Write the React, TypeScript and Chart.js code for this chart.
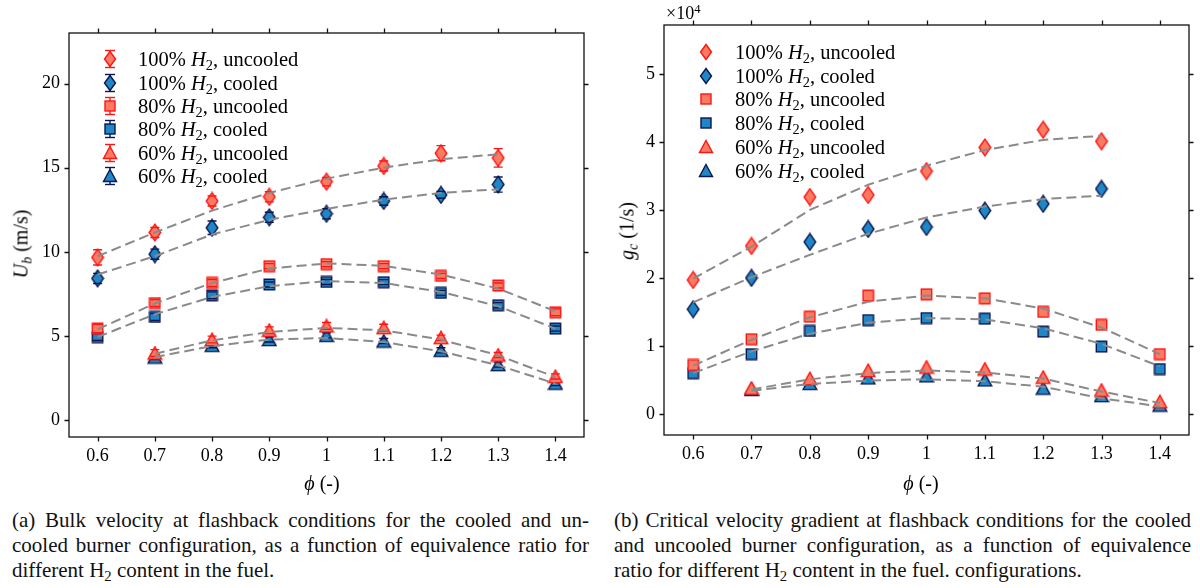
import React, { useEffect, useRef } from "react";
import { Chart, registerables } from "chart.js";

Chart.register(...registerables);

// ---------- data ----------
const PHI_100 = [0.6, 0.7, 0.8, 0.9, 1.0, 1.1, 1.2, 1.3];
const PHI_80 = [0.6, 0.7, 0.8, 0.9, 1.0, 1.1, 1.2, 1.3, 1.4];
const PHI_60 = [0.7, 0.8, 0.9, 1.0, 1.1, 1.2, 1.3, 1.4];

const X_TICKS = [0.6, 0.7, 0.8, 0.9, 1.0, 1.1, 1.2, 1.3, 1.4];
const X_TICK_LABELS = ["0.6", "0.7", "0.8", "0.9", "1", "1.1", "1.2", "1.3", "1.4"];
const UB_TICKS = [0, 5, 10, 15, 20];
const UB_TICK_LABELS = ["0", "5", "10", "15", "20"];
const GC_TICKS = [0, 1, 2, 3, 4, 5];
const GC_TICK_LABELS = ["0", "1", "2", "3", "4", "5"];

// (a) bulk velocity U_b (m/s)
const UB_100_UNC = [9.67, 11.15, 13.02, 13.27, 14.17, 15.1, 15.86, 15.58];
const UB_100_COOL = [8.42, 9.86, 11.43, 12.05, 12.26, 13.02, 13.38, 14.0];
const UB_80_UNC = [5.44, 6.96, 8.15, 9.15, 9.27, 9.15, 8.57, 8.0, 6.41];
const UB_80_COOL = [4.94, 6.13, 7.42, 8.06, 8.21, 8.2, 7.56, 6.83, 5.44];
const UB_60_UNC = [3.99, 4.79, 5.34, 5.6, 5.5, 4.9, 3.87, 2.6];
const UB_60_COOL = [3.75, 4.45, 4.79, 5.04, 4.7, 4.15, 3.3, 2.2];

const UB_100_UNC_ERR = [0.45, 0.3, 0.3, 0.3, 0.25, 0.3, 0.45, 0.55];
const UB_100_COOL_ERR = [0.3, 0.3, 0.4, 0.3, 0.3, 0.25, 0.2, 0.45];
const UB_80_UNC_ERR = [0.25, 0.2, 0.2, 0.15, 0.15, 0.15, 0.15, 0.15, 0.2];
const UB_80_COOL_ERR = [0.2, 0.2, 0.2, 0.15, 0.15, 0.15, 0.15, 0.15, 0.15];
const UB_60_UNC_ERR = [0.2, 0.2, 0.2, 0.2, 0.2, 0.15, 0.15, 0.15];
const UB_60_COOL_ERR = [0.15, 0.15, 0.15, 0.15, 0.15, 0.15, 0.15, 0.15];

const UB_100_UNC_FIT = [9.74, 11.15, 12.45, 13.5, 14.35, 15.0, 15.5, 15.8];
const UB_100_COOL_FIT = [8.65, 9.74, 11.03, 11.9, 12.55, 13.1, 13.5, 13.72];
const UB_80_UNC_FIT = [5.4, 6.93, 8.15, 9.01, 9.31, 9.17, 8.65, 7.82, 6.47];
const UB_80_COOL_FIT = [4.94, 6.29, 7.32, 7.96, 8.26, 8.15, 7.62, 6.77, 5.44];
const UB_60_UNC_FIT = [3.95, 4.74, 5.24, 5.48, 5.34, 4.79, 3.85, 2.56];
const UB_60_COOL_FIT = [3.75, 4.4, 4.79, 4.88, 4.64, 4.09, 3.26, 2.17];

// (b) critical velocity gradient g_c (1/s), in units of 10^4
const GC_100_UNC = [1.97, 2.47, 3.19, 3.22, 3.57, 3.92, 4.18, 4.01];
const GC_100_COOL = [1.54, 2.0, 2.53, 2.72, 2.75, 2.99, 3.09, 3.31];
const GC_80_UNC = [0.72, 1.1, 1.43, 1.74, 1.76, 1.7, 1.5, 1.31, 0.88];
const GC_80_COOL = [0.6, 0.88, 1.22, 1.38, 1.41, 1.4, 1.21, 0.99, 0.66];
const GC_60_UNC = [0.38, 0.52, 0.64, 0.69, 0.66, 0.54, 0.35, 0.18];
const GC_60_COOL = [0.36, 0.45, 0.53, 0.56, 0.5, 0.38, 0.27, 0.13];

const GC_100_UNC_FIT = [1.99, 2.46, 3.0, 3.37, 3.65, 3.88, 4.03, 4.09];
const GC_100_COOL_FIT = [1.64, 2.01, 2.34, 2.65, 2.89, 3.05, 3.16, 3.21];
const GC_80_UNC_FIT = [0.71, 1.09, 1.42, 1.65, 1.74, 1.7, 1.55, 1.27, 0.88];
const GC_80_COOL_FIT = [0.6, 0.92, 1.18, 1.34, 1.41, 1.39, 1.26, 1.03, 0.7];
const GC_60_UNC_FIT = [0.36, 0.51, 0.6, 0.64, 0.61, 0.52, 0.33, 0.16];
const GC_60_COOL_FIT = [0.34, 0.44, 0.49, 0.51, 0.48, 0.4, 0.23, 0.11];

const LEGEND_LABELS = [
  { pct: "100%", state: "uncooled", shape: "diamond", cooled: false },
  { pct: "100%", state: "cooled", shape: "diamond", cooled: true },
  { pct: "80%", state: "uncooled", shape: "square", cooled: false },
  { pct: "80%", state: "cooled", shape: "square", cooled: true },
  { pct: "60%", state: "uncooled", shape: "triangle", cooled: false },
  { pct: "60%", state: "cooled", shape: "triangle", cooled: true },
];

// ---------- styles ----------
const UNC_FILL = "#fa7b62";
const UNC_EDGE = "#ff1414";
const COOL_FILL = "#1f87c5";
const COOL_EDGE = "#0b1650";
const FIT_COLOR = "#8a8a8a";
const SERIF = "'Liberation Serif', 'DejaVu Serif', serif";

type Shape = "diamond" | "square" | "triangle";

function makeMarker(shape: Shape, fill: string, edge: string): HTMLCanvasElement {
  const c = document.createElement("canvas");
  const ctx = c.getContext("2d")!;
  if (shape === "diamond") {
    c.width = 14; c.height = 19;
    ctx.beginPath();
    ctx.moveTo(7, 1.2); ctx.lineTo(12.8, 9.5); ctx.lineTo(7, 17.8); ctx.lineTo(1.2, 9.5); ctx.closePath();
  } else if (shape === "square") {
    c.width = 13; c.height = 13;
    ctx.beginPath();
    ctx.rect(1.3, 1.3, 10.4, 10.4);
  } else {
    c.width = 16; c.height = 15;
    ctx.beginPath();
    ctx.moveTo(8, 1.2); ctx.lineTo(14.8, 13.6); ctx.lineTo(1.2, 13.6); ctx.closePath();
  }
  ctx.fillStyle = fill; ctx.fill();
  ctx.lineWidth = 1.4; ctx.strokeStyle = edge; ctx.lineJoin = "miter"; ctx.stroke();
  return c;
}

const errorBarPlugin = {
  id: "errbars",
  beforeDatasetDraw(chart: any, args: any) {
    const ds: any = chart.data.datasets[args.index];
    if (!ds.errs) return;
    const y = chart.scales.y; const ctx = chart.ctx;
    ctx.save(); ctx.strokeStyle = ds.errColor; ctx.lineWidth = 1.4;
    args.meta.data.forEach((pt: any, i: number) => {
      const v = ds.data[i].y; const e = ds.errs[i];
      ctx.beginPath();
      ctx.moveTo(pt.x, y.getPixelForValue(v + e));
      ctx.lineTo(pt.x, y.getPixelForValue(v - e));
      ctx.stroke();
    });
    ctx.restore();
  },
  afterDatasetDraw(chart: any, args: any) {
    const ds: any = chart.data.datasets[args.index];
    if (!ds.errs) return;
    const y = chart.scales.y; const ctx = chart.ctx;
    ctx.save(); ctx.strokeStyle = ds.errColor; ctx.lineWidth = 1.4;
    args.meta.data.forEach((pt: any, i: number) => {
      const v = ds.data[i].y; const e = ds.errs[i];
      const y1 = y.getPixelForValue(v + e); const y2 = y.getPixelForValue(v - e);
      ctx.beginPath();
      ctx.moveTo(pt.x - 4.5, y1); ctx.lineTo(pt.x + 4.5, y1);
      ctx.moveTo(pt.x - 4.5, y2); ctx.lineTo(pt.x + 4.5, y2);
      ctx.stroke();
    });
    ctx.restore();
  },
};

const framePlugin = {
  id: "frame",
  afterDraw(chart: any) {
    const { ctx, chartArea: a, scales } = chart;
    const xs = scales.x; const ys = scales.y;
    ctx.save();
    ctx.strokeStyle = "#111"; ctx.lineWidth = 1.3;
    ctx.strokeRect(a.left, a.top, a.right - a.left, a.bottom - a.top);
    ctx.beginPath();
    xs.ticks.forEach((t: any) => {
      const px = Math.round(xs.getPixelForValue(t.value)) + 0.5;
      ctx.moveTo(px, a.bottom); ctx.lineTo(px, a.bottom + 4.5);
      ctx.moveTo(px, a.top); ctx.lineTo(px, a.top - 4.5);
    });
    ys.ticks.forEach((t: any) => {
      const py = Math.round(ys.getPixelForValue(t.value)) + 0.5;
      ctx.moveTo(a.left, py); ctx.lineTo(a.left - 4.5, py);
      ctx.moveTo(a.right, py); ctx.lineTo(a.right + 4.5, py);
    });
    ctx.stroke();
    ctx.restore();
  },
};

interface SeriesDef {
  xs: number[]; ys: number[]; fit: number[]; errs?: number[]; shape: Shape; cooled: boolean;
}

function buildConfig(series: SeriesDef[], yMin: number, yMax: number, yTicks: number[], yLabels: string[],
  lay: { top: number; right: number; yWidth: number; xHeight: number }): any {
  const datasets: any[] = [];
  series.forEach((s) => {
    datasets.push({
      type: "line",
      data: s.xs.map((x, i) => ({ x, y: s.fit[i] })),
      borderColor: FIT_COLOR, borderWidth: 2, borderDash: [10, 5],
      pointRadius: 0, fill: false, tension: 0, order: 0,
    });
  });
  series.forEach((s) => {
    datasets.push({
      type: "scatter",
      data: s.xs.map((x, i) => ({ x, y: s.ys[i] })),
      pointStyle: makeMarker(s.shape, s.cooled ? COOL_FILL : UNC_FILL, s.cooled ? COOL_EDGE : UNC_EDGE),
      pointRadius: 8,
      errs: s.errs, errColor: s.cooled ? COOL_EDGE : UNC_EDGE,
      order: s.cooled ? 2 : 1,
      clip: false,
    });
  });
  const tickFont = { family: SERIF, size: 18 };
  return {
    type: "scatter",
    data: { datasets },
    options: {
      animation: false, responsive: false, devicePixelRatio: 1, events: [],
      layout: { padding: { top: lay.top, right: lay.right, left: 0, bottom: 0 } },
      plugins: { legend: { display: false }, tooltip: { enabled: false } },
      scales: {
        x: {
          type: "linear", min: 0.55, max: 1.45,
          afterBuildTicks: (sc: any) => { sc.ticks = X_TICKS.map((v) => ({ value: v })); },
          afterFit: (sc: any) => { sc.height = lay.xHeight; },
          ticks: { font: tickFont, color: "#000", padding: 8, maxRotation: 0, autoSkip: false,
            callback: (_v: any, i: number) => X_TICK_LABELS[i] },
          grid: { display: false, drawTicks: false },
          border: { display: false },
        },
        y: {
          type: "linear", min: yMin, max: yMax,
          afterBuildTicks: (sc: any) => { sc.ticks = yTicks.map((v) => ({ value: v })); },
          afterFit: (sc: any) => { sc.width = lay.yWidth; },
          ticks: { font: tickFont, color: "#000", padding: 9, autoSkip: false,
            callback: (_v: any, i: number) => yLabels[i] },
          grid: { display: false, drawTicks: false },
          border: { display: false },
        },
      },
    },
    plugins: [errorBarPlugin, framePlugin],
  };
}

function ChartCanvas({ config, left }: { config: () => any; left: number }) {
  const ref = useRef<HTMLCanvasElement | null>(null);
  useEffect(() => {
    if (!ref.current) return;
    const chart = new Chart(ref.current, config());
    return () => chart.destroy();
  }, []);
  return (
    <canvas ref={ref} width={600} height={500}
      style={{ position: "absolute", left, top: 0, width: 600, height: 500, display: "block" }} />
  );
}

function MarkerSvg({ shape, cooled, err }: { shape: string; cooled: boolean; err: boolean }) {
  const fill = cooled ? COOL_FILL : UNC_FILL;
  const edge = cooled ? COOL_EDGE : UNC_EDGE;
  let body: any;
  if (shape === "diamond") body = <polygon points="10,5.5 15.5,13 10,20.5 4.5,13" fill={fill} stroke={edge} strokeWidth={1.4} />;
  else if (shape === "square") body = <rect x={5} y={8} width={10} height={10} fill={fill} stroke={edge} strokeWidth={1.4} />;
  else body = <polygon points="10,6.5 16.5,18.5 3.5,18.5" fill={fill} stroke={edge} strokeWidth={1.4} />;
  return (
    <svg width={20} height={26} style={{ position: "absolute", left: -10, top: -13, overflow: "visible" }}>
      {err && <line x1={10} y1={4.5} x2={10} y2={21.5} stroke={edge} strokeWidth={1.4} />}
      {body}
      {err && <line x1={5} y1={4.5} x2={15} y2={4.5} stroke={edge} strokeWidth={1.4} />}
      {err && <line x1={5} y1={21.5} x2={15} y2={21.5} stroke={edge} strokeWidth={1.4} />}
    </svg>
  );
}

function Legend({ mx, tx, rows, err }: { mx: number; tx: number; rows: number[]; err: boolean }) {
  return (
    <>
      {LEGEND_LABELS.map((l, i) => (
        <React.Fragment key={i}>
          <div style={{ position: "absolute", left: mx, top: rows[i], width: 0, height: 0 }}>
            <MarkerSvg shape={l.shape} cooled={l.cooled} err={err} />
          </div>
          <div style={{ position: "absolute", left: tx, top: rows[i] - 12, font: `20.5px ${SERIF}`, lineHeight: "24px", whiteSpace: "nowrap", color: "#000" }}>
            {l.pct} <i>H</i><sub style={{ fontSize: "0.7em", verticalAlign: "-0.25em", lineHeight: 0 }}>2</sub>, {l.state}
          </div>
        </React.Fragment>
      ))}
    </>
  );
}

const subStyle = { fontSize: "0.7em", verticalAlign: "-0.25em", lineHeight: 0 } as const;

function Caption({ left, width, lines }: { left: number; width: number; lines: any[] }) {
  return (
    <div style={{ position: "absolute", left, top: 508, width, font: `21px ${SERIF}`, lineHeight: "25px", color: "#111" }}>
      {lines.map((ln, i) => (
        <div key={i} style={{ textAlign: i < lines.length - 1 ? "justify" : "left", textAlignLast: i < lines.length - 1 ? "justify" : "left" } as any}>{ln}</div>
      ))}
    </div>
  );
}

export default function App() {
  const leftCfg = () => buildConfig([
    { xs: PHI_100, ys: UB_100_UNC, fit: UB_100_UNC_FIT, errs: UB_100_UNC_ERR, shape: "diamond", cooled: false },
    { xs: PHI_100, ys: UB_100_COOL, fit: UB_100_COOL_FIT, errs: UB_100_COOL_ERR, shape: "diamond", cooled: true },
    { xs: PHI_80, ys: UB_80_UNC, fit: UB_80_UNC_FIT, errs: UB_80_UNC_ERR, shape: "square", cooled: false },
    { xs: PHI_80, ys: UB_80_COOL, fit: UB_80_COOL_FIT, errs: UB_80_COOL_ERR, shape: "square", cooled: true },
    { xs: PHI_60, ys: UB_60_UNC, fit: UB_60_UNC_FIT, errs: UB_60_UNC_ERR, shape: "triangle", cooled: false },
    { xs: PHI_60, ys: UB_60_COOL, fit: UB_60_COOL_FIT, errs: UB_60_COOL_ERR, shape: "triangle", cooled: true },
  ], -1, 23, UB_TICKS, UB_TICK_LABELS, { top: 33, right: 16, yWidth: 69, xHeight: 63 });

  const rightCfg = () => buildConfig([
    { xs: PHI_100, ys: GC_100_UNC, fit: GC_100_UNC_FIT, shape: "diamond", cooled: false },
    { xs: PHI_100, ys: GC_100_COOL, fit: GC_100_COOL_FIT, shape: "diamond", cooled: true },
    { xs: PHI_80, ys: GC_80_UNC, fit: GC_80_UNC_FIT, shape: "square", cooled: false },
    { xs: PHI_80, ys: GC_80_COOL, fit: GC_80_COOL_FIT, shape: "square", cooled: true },
    { xs: PHI_60, ys: GC_60_UNC, fit: GC_60_UNC_FIT, shape: "triangle", cooled: false },
    { xs: PHI_60, ys: GC_60_COOL, fit: GC_60_COOL_FIT, shape: "triangle", cooled: true },
  ], -0.31, 5.72, GC_TICKS, GC_TICK_LABELS, { top: 25, right: 11, yWidth: 64, xHeight: 65 });

  const labelFont = `20px ${SERIF}`;
  return (
    <div style={{ position: "absolute", left: 0, top: 0, width: 1200, height: 588, background: "#fff", overflow: "hidden", color: "#000" }}>
      <ChartCanvas config={leftCfg} left={0} />
      <ChartCanvas config={rightCfg} left={600} />

      {/* axis titles */}
      <div style={{ position: "absolute", left: 21, top: 244, transform: "translate(-50%,-50%) rotate(-90deg)", font: labelFont, whiteSpace: "nowrap" }}>
        <i>U</i><sub style={{ ...subStyle, fontStyle: "italic" }}>b</sub> (m/s)
      </div>
      <div style={{ position: "absolute", left: 627, top: 231, transform: "translate(-50%,-50%) rotate(-90deg)", font: labelFont, whiteSpace: "nowrap" }}>
        <i>g</i><sub style={{ ...subStyle, fontStyle: "italic" }}>c</sub> (1/s)
      </div>
      <div style={{ position: "absolute", left: 322, top: 483, transform: "translate(-50%,-50%)", font: labelFont, whiteSpace: "nowrap" }}>
        <i>ϕ</i> (-)
      </div>
      <div style={{ position: "absolute", left: 921, top: 483, transform: "translate(-50%,-50%)", font: labelFont, whiteSpace: "nowrap" }}>
        <i>ϕ</i> (-)
      </div>
      <div style={{ position: "absolute", left: 666, top: 2, font: `18px ${SERIF}`, lineHeight: "22px", whiteSpace: "nowrap" }}>
        ×10<sup style={{ fontSize: "0.7em", verticalAlign: "0.45em", lineHeight: 0 }}>4</sup>
      </div>

      <Legend mx={110} tx={138} rows={[59.3, 82.7, 106, 129.3, 152.7, 176]} err={true} />
      <Legend mx={706} tx={735} rows={[51.7, 76, 99.3, 123.3, 146.7, 170.7]} err={false} />

      <Caption left={12} width={577} lines={[
        "(a) Bulk velocity at flashback conditions for the cooled and un-",
        "cooled burner configuration, as a function of equivalence ratio for",
        <span>different H<sub style={subStyle}>2</sub> content in the fuel.</span>,
      ]} />
      <Caption left={614} width={577} lines={[
        "(b) Critical velocity gradient at flashback conditions for the cooled",
        "and uncooled burner configuration, as a function of equivalence",
        <span>ratio for different H<sub style={subStyle}>2</sub> content in the fuel. configurations.</span>,
      ]} />
    </div>
  );
}
